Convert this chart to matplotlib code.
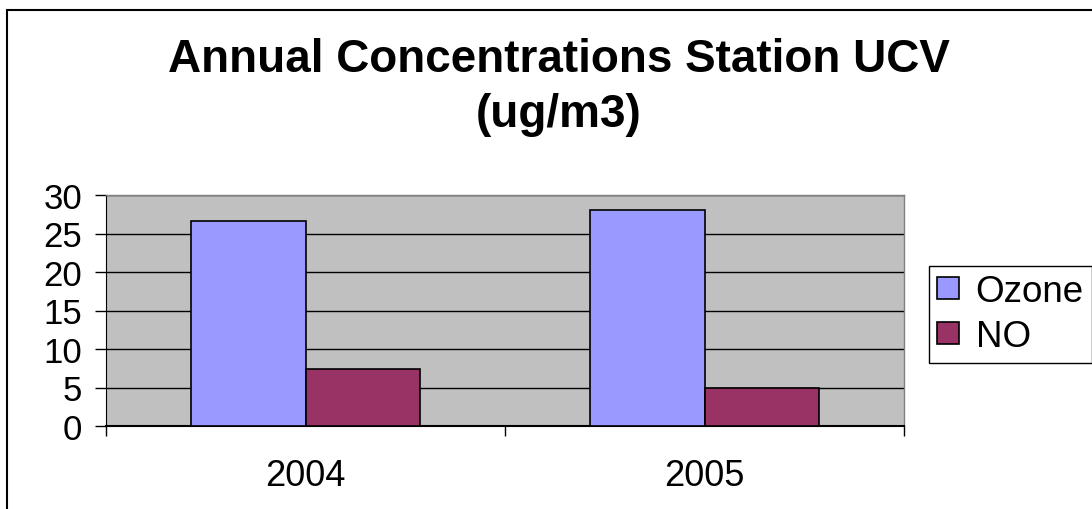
import matplotlib.pyplot as plt
from matplotlib.patches import Rectangle
from matplotlib.ticker import FixedLocator

years = ["2004", "2005"]
ozone = [26.6, 28.0]
no = [7.4, 5.0]

plt.rcParams['font.family'] = ['Liberation Sans', 'DejaVu Sans']

fig = plt.figure(figsize=(10.92, 5.10), dpi=100)

# outer chart frame (runs off the right and bottom edge)
fig.patches.append(Rectangle((7 / 1092, -0.2), 1.2, 1.2 - 11 / 510,
                             transform=fig.transFigure, fill=False,
                             edgecolor='black', linewidth=1.5))

ax = fig.add_axes([106 / 1092, 1 - 427 / 510, 798 / 1092, 231 / 510])
ax.set_facecolor('#C0C0C0')

x = list(range(len(years)))
w = 0.286
ax.bar([i - w / 2 for i in x], ozone, width=w, color='#9999FF',
       edgecolor='black', linewidth=1.2, label='Ozone', zorder=3)
ax.bar([i + w / 2 for i in x], no, width=w, color='#993366',
       edgecolor='black', linewidth=1.2, label='NO', zorder=3)

ax.set_xlim(-0.5, len(years) - 0.5)
ax.set_ylim(0, 30)
ax.set_yticks(range(0, 31, 5))
ax.yaxis.grid(True, color='black', linewidth=1, zorder=1)
ax.set_axisbelow(True)
ax.tick_params(axis='y', direction='out', length=8, width=1, pad=9,
               labelsize=25)

# ticks between categories, labels in the middle
ax.xaxis.set_major_locator(FixedLocator([-0.5, 0.5, 1.5]))
ax.xaxis.set_major_formatter(plt.NullFormatter())
ax.xaxis.set_minor_locator(FixedLocator(x))
ax.set_xticklabels(years, minor=True)
ax.tick_params(axis='x', which='major', direction='out', length=7, width=1)
ax.tick_params(axis='x', which='minor', length=0, pad=23, labelsize=26)

for side in ['top', 'right']:
    ax.spines[side].set_color('#808080')
    ax.spines[side].set_linewidth(1)
ax.spines['left'].set_color('black')
ax.spines['bottom'].set_color('black')
ax.spines['bottom'].set_linewidth(1.5)

fig.text(559 / 1092, 0.925, "Annual Concentrations Station UCV\n(ug/m3)",
         ha='center', va='top', fontsize=33, fontweight='bold',
         linespacing=1.33)

leg = fig.legend(loc='upper left', bbox_to_anchor=(929 / 1092, 1 - 267 / 510),
                 fontsize=26.5, frameon=True, fancybox=False, shadow=False,
                 framealpha=1, edgecolor='black', borderaxespad=0,
                 handlelength=0.6, handleheight=0.55, handletextpad=0.45,
                 labelspacing=0.28, borderpad=0.22)
leg.get_frame().set_linewidth(1)

plt.savefig("out.png", dpi=100)
plt.close()
